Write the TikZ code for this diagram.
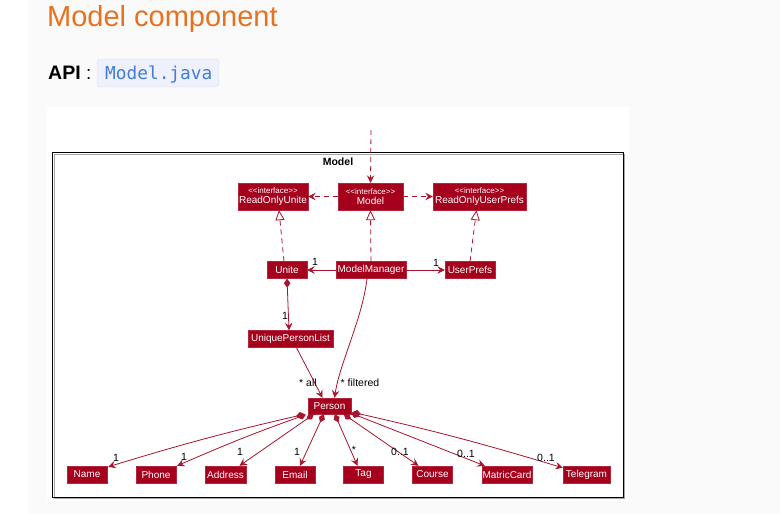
\documentclass[tikz,border=0pt]{standalone}
\usepackage{fontspec}
\setmainfont{Liberation Sans}
\newfontfamily\codefont{DejaVu Sans Mono}
\usetikzlibrary{arrows.meta,calc}
\definecolor{umlred}{RGB}{165,0,28}
\definecolor{lineRed}{RGB}{168,20,45}
\definecolor{titleorange}{RGB}{232,113,30}
\definecolor{codeblue}{RGB}{66,125,214}
\definecolor{codebg}{RGB}{238,240,252}
\definecolor{codeborder}{RGB}{222,226,242}
\definecolor{pagebg}{RGB}{250,250,251}
\begin{document}
\begin{tikzpicture}[x=1pt,y=-1pt,
  cls/.style={fill=umlred, draw=umlred!85!white, line width=0.4pt, text=white,
    font=\fontsize{10}{10.5}\selectfont, inner sep=0pt, minimum height=17pt},
  iface/.style={cls, minimum height=27pt, align=center},
  lab/.style={font=\fontsize{10.5}{10.5}\selectfont, inner sep=0pt, text=black},
  conn/.style={draw=lineRed, line width=0.8pt},
  arr/.style={conn, -{Stealth[length=7.5pt,width=7.5pt,inset=2.8pt]}},
  dep/.style={arr, dash pattern=on 5pt off 4pt},
  real/.style={conn, dash pattern=on 5pt off 4pt, -{Triangle[open,length=10pt,width=9pt,fill=white]}},
  compo/.style={conn, {Diamond[length=9pt,width=6.5pt]}-{Stealth[length=7.5pt,width=7.5pt,inset=2.8pt]}}
]
\useasboundingbox (0,0) rectangle (780,514);
% backgrounds
\fill[pagebg] (0,0) rectangle (780,514);
\fill[white] (0,0) rectangle (28,514);
\fill[white] (47,107) rectangle (629,501);

% header
\node[anchor=base west, inner sep=0pt, text=titleorange, font=\fontsize{29}{30}\selectfont] (title) at (47,27) {Model component};
\node[anchor=base west, inner sep=0pt, font=\bfseries\fontsize{19.5}{20}\selectfont] (api) at (48,79) {API};
\node[anchor=base west, inner sep=0pt, font=\fontsize{19}{20}\selectfont] (colon) at (86,79) {:};
\node[fill=codebg, draw=codeborder, rounded corners=3pt, minimum width=122pt, minimum height=28pt, inner sep=0pt] (codebox) at (158,73) {};
\node[anchor=base west, inner sep=0pt, text=codeblue, font=\codefont\fontsize{17.8}{18}\selectfont] (code) at (105,79) {Model.java};

% frame
\draw[gray!70, line width=1pt] (54.5,154.5) rectangle (624.5,498.5);
\draw[black, line width=1pt] (52.5,152.5) rectangle (623,497);
\node[font=\bfseries\fontsize{10.5}{10.5}\selectfont, inner sep=0pt] (framelabel) at (338,162) {Model};

% classes
\node[iface, minimum width=70pt] (rou) at (273,196.5) {{\fontsize{8}{9.5}\selectfont <{}<interface>{}>}\\ReadOnlyUnite};
\node[iface, minimum width=65pt] (model) at (370.5,196.5) {{\fontsize{8}{9.5}\selectfont <{}<interface>{}>}\\Model};
\node[iface, minimum width=93pt] (rup) at (479.5,196.5) {{\fontsize{8}{9.5}\selectfont <{}<interface>{}>}\\ReadOnlyUserPrefs};
\node[cls, minimum width=40pt] (unite) at (287,270) {Unite};
\node[cls, minimum width=70pt] (mm) at (371,270) {ModelManager};
\node[cls, minimum width=50pt] (up) at (470,270) {UserPrefs};
\node[cls, minimum width=85pt] (upl) at (290.5,339) {UniquePersonList};
\node[cls, minimum width=43pt, minimum height=16pt] (person) at (329.5,406) {Person};
\node[cls, minimum width=40pt] (name) at (87,474.5) {Name};
\node[cls, minimum width=40pt] (phone) at (156,474.5) {Phone};
\node[cls, minimum width=41pt] (address) at (225.5,474.5) {Address};
\node[cls, minimum width=40pt] (email) at (295,474.5) {Email};
\node[cls, minimum width=40pt] (tag) at (363.5,474.5) {Tag};
\node[cls, minimum width=40pt] (course) at (432.5,474.5) {Course};
\node[cls, minimum width=50pt] (mc) at (507,474.5) {MatricCard};
\node[cls, minimum width=47pt] (tele) at (586.5,474.5) {Telegram};

% incoming dependency
\coordinate (topin) at (371,130);
\draw[dep] (topin) -- (model.north);
\draw[dep] (model.west) -- (rou.east);
\draw[dep] (model.east) -- (rup.west);

% realizations
\draw[real] ($(unite.north)+(-3,0)$) -- ($(rou.south)+(6,0)$);
\draw[real] (mm.north) -- (model.south);
\draw[real] (up.north) -- ($(rup.south)+(-3,0)$);

% associations
\draw[arr] (mm.west) -- (unite.east);
\draw[arr] (mm.east) -- (up.west);
\draw[compo] (unite.south) -- ($(upl.north)+(-1.5,0)$);
\draw[arr] ($(upl.south)+(6,0)$) -- ($(person.north)+(-7,0)$);
\draw[arr] ($(mm.south)+(-4,0)$) .. controls (362,320) and (340,362) .. ($(person.north)+(5,0)$);

% person compositions
\draw[compo] ($(person.south west)+(-3,0)$) to[bend right=2] ($(name.north east)+(1,1)$);
\draw[compo] ($(person.south west)+(-2,0.5)$) to[bend right=2] ($(phone.north east)+(1,0)$);
\draw[compo] ($(person.south west)+(6,0)$) -- ($(address.north)+(14,0)$);
\draw[compo] ($(person.south west)+(16,0)$) -- ($(email.north)+(5,0)$);
\draw[compo] ($(person.south west)+(27,0)$) -- ($(tag.north)+(-6,0)$);
\draw[compo] ($(person.south west)+(36,0)$) -- ($(course.north)+(-14,0)$);
\draw[compo] ($(person.south east)+(0,-1)$) -- ($(mc.north west)+(3,0)$);
\draw[compo] ($(person.south east)+(1,-2)$) to[bend left=2] ($(tele.north west)+(0,2)$);

% labels
\node[lab] (l1) at (315,262) {1};
\node[lab] (l2) at (436,263) {1};
\node[lab] (l3) at (285,316) {1};
\node[lab] (l4) at (308,383) {* all};
\node[lab] (l5) at (360,383) {* filtered};
\node[lab] (l6) at (116,458) {1};
\node[lab] (l7) at (184,457) {1};
\node[lab] (l8) at (240,452) {1};
\node[lab] (l9) at (297,452) {1};
\node[lab] (l10) at (354,450) {*};
\node[lab] (l11) at (400,452) {0..1};
\node[lab] (l12) at (466,454) {0..1};
\node[lab] (l13) at (546,458) {0..1};
\end{tikzpicture}
\end{document}
